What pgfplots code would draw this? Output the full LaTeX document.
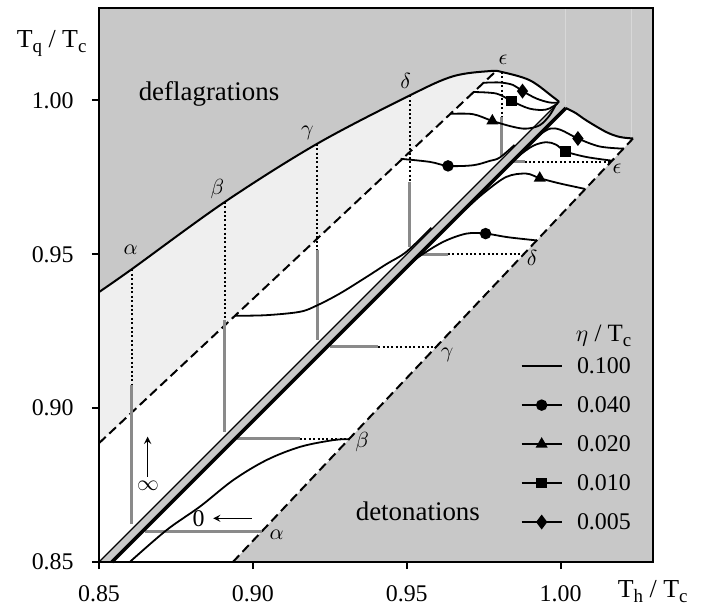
\documentclass[border=0pt]{standalone}
\usepackage{fontspec}
\setmainfont{Liberation Serif}
\usepackage{pgfplots}
\usepackage{pgfplotstable}
\pgfplotsset{compat=1.18}

\definecolor{bggray}{HTML}{C8C8C8}
\definecolor{lightfill}{HTML}{EFEFEF}
\definecolor{limitgray}{HTML}{8A8A8A}
\definecolor{seam}{HTML}{D8D8D8}

% symbol with an upright subscript, e.g. T_q
\newcommand{\lab}[2]{#1\raisebox{-0.45ex}{\fontsize{9.5}{11}\selectfont #2}}

% upper boundary of the deflagration region
\pgfplotstableread{
x y
0.8500 0.9377
0.8606 0.9451
0.8909 0.9670
0.9209 0.9859
0.9510 1.0016
0.9650 1.0078
0.9769 1.0095
0.9809 1.0092
0.9900 1.0065
0.9975 1.0011
0.9995 0.9995
}\deflbound

% upper boundary of the detonation region
\pgfplotstableread{
x y
1.0017 0.9975
1.0050 0.9958
1.0083 0.9935
1.0148 0.9897
1.0192 0.9881
1.0235 0.9876
}\detbound

\pgfplotsset{
  curve/.style={black, line width=0.9bp, smooth, tension=0.55, mark options={solid, fill=black, draw=black}},
  bound/.style={black, line width=1bp, smooth, tension=0.55},
  dashline/.style={black, line width=1bp, dash pattern=on 4.6bp off 2.4bp},
  dotline/.style={black, line width=1bp, dash pattern=on 1bp off 1.2bp},
  limit/.style={limitgray, line width=1.4bp},
}

\begin{document}
\begin{tikzpicture}[font=\fontsize{12}{14.4}\selectfont]
\begin{axis}[
  width=277bp, height=277bp, scale only axis,
  xmin=0.85, xmax=1.03, ymin=0.85, ymax=1.03,
  xtick={0.85,0.9,0.95,1.0}, xticklabels={0.85,0.90,0.95,1.00},
  ytick={0.85,0.9,0.95,1.0}, yticklabels={0.85,0.90,0.95,1.00},
  tick align=outside, xtick pos=bottom, ytick pos=left,
  major tick length=3.5bp,
  every tick/.style={black, line width=1bp},
  axis line style={line width=1bp},
  axis background/.style={fill=bggray},
  axis on top,
  clip=false,
  tick label style={font=\fontsize{12}{14.4}\selectfont, inner sep=0pt},
  xticklabel style={yshift=-8bp},
  yticklabel style={xshift=-9bp},
]

% regions
\addplot[draw=none, fill=white, smooth, tension=0.55] table {\deflbound}
  -- (axis cs:0.85,0.85) -- cycle;
\addplot[draw=none, fill=lightfill] coordinates {(0.85,0.8886) (0.9789,1.0094) (0.9789,1.03) (0.85,1.03)} -- cycle;
\addplot[draw=none, fill=bggray, smooth, tension=0.55] table {\deflbound}
  -- (axis cs:0.9995,1.03) -- (axis cs:0.85,1.03) -- cycle;
\addplot[draw=none, fill=white, smooth, tension=0.55] table {\detbound}
  -- (axis cs:0.8935,0.85) -- (axis cs:0.8542,0.85) -- cycle;

% faint seams in the shaded area
\addplot[seam, line width=0.5bp] coordinates {(1.0016,1.03) (1.0016,0.9985)};
\addplot[seam, line width=0.5bp] coordinates {(1.0231,1.03) (1.0231,0.9880)};

% dashed limits
\addplot[dashline] coordinates {(0.85,0.8886) (0.9789,1.0094)};
\addplot[dashline] coordinates {(0.8935,0.85) (1.0235,0.9876)};

% deflagrations: dotted and grey verticals
\addplot[dotline] coordinates {(0.8606,0.9451) (0.8606,0.9075)};
\addplot[dotline] coordinates {(0.8909,0.9670) (0.8909,0.9286)};
\addplot[dotline] coordinates {(0.9209,0.9859) (0.9209,0.9513)};
\addplot[dotline] coordinates {(0.9510,1.0016) (0.9510,0.9735)};
\addplot[dotline] coordinates {(0.9809,1.0092) (0.9809,0.9946)};
\addplot[limit] coordinates {(0.8606,0.9075) (0.8606,0.8625)};
\addplot[limit] coordinates {(0.8909,0.9286) (0.8909,0.8923)};
\addplot[limit] coordinates {(0.9209,0.9513) (0.9209,0.9222)};
\addplot[limit] coordinates {(0.9510,0.9735) (0.9510,0.9522)};
\addplot[limit] coordinates {(0.9809,0.9946) (0.9809,0.9820)};

% detonations: grey and dotted horizontals
\addplot[limit] coordinates {(0.8649,0.86) (0.9030,0.86)};
\addplot[limit] coordinates {(0.8947,0.89) (0.9153,0.89)};
\addplot[limit] coordinates {(0.9250,0.92) (0.9407,0.92)};
\addplot[limit] coordinates {(0.9537,0.95) (0.9634,0.95)};
\addplot[limit] coordinates {(0.9840,0.98) (0.9883,0.98)};
\addplot[dotline] coordinates {(0.9153,0.89) (0.9313,0.89)};
\addplot[dotline] coordinates {(0.9407,0.92) (0.9597,0.92)};
\addplot[dotline] coordinates {(0.9634,0.95) (0.9881,0.95)};
\addplot[dotline] coordinates {(0.9883,0.98) (1.0163,0.98)};

% band between the two branches
\addplot[black, line width=0.7bp] coordinates {(0.85,0.85) (0.9995,0.9995)};
\addplot[black, line width=1.8bp] coordinates {(0.8542,0.85) (1.0017,0.9975)};

% region boundaries
\addplot[bound] table {\deflbound};
\addplot[bound] table {\detbound};

% deflagration solutions
\addplot[curve] coordinates {(0.8942,0.9300) (0.9044,0.9302) (0.9153,0.9313) (0.9209,0.9334) (0.9282,0.9372) (0.9369,0.9426) (0.9434,0.9468) (0.9499,0.9508) (0.9580,0.9586)};
\addplot[curve, mark=*, mark size=2.4bp, mark indices={3}] coordinates {(0.9480,0.9810) (0.9575,0.9800) (0.9634,0.9787) (0.9715,0.9789) (0.9769,0.9803) (0.9802,0.9814) (0.9850,0.9855)};
\addplot[curve, mark=triangle*, mark size=2.6bp, mark indices={3}] coordinates {(0.9640,0.9956) (0.9715,0.9955) (0.9778,0.9933) (0.9845,0.9914) (0.9888,0.9908) (0.9932,0.9919) (0.9964,0.9951) (0.9985,0.9987)};
\addplot[curve, mark=square*, mark size=2.2bp, mark indices={3}] coordinates {(0.9715,1.0027) (0.9791,1.0022) (0.9840,0.9998) (0.9899,0.9973) (0.9953,0.9970) (0.9990,0.9990)};
\addplot[curve, mark=diamond*, mark size=3bp, mark indices={4}] coordinates {(0.9748,1.0057) (0.9802,1.0058) (0.9845,1.0050) (0.9876,1.0030) (0.9921,1.0006) (0.9964,0.9993) (0.9993,0.9993)};

% detonation solutions
\addplot[curve] coordinates {(0.8600,0.8500) (0.8720,0.8604) (0.8828,0.8680) (0.8936,0.8766) (0.9044,0.8831) (0.9153,0.8874) (0.9261,0.8896) (0.9313,0.8899)};
\addplot[curve, mark=*, mark size=2.4bp, mark indices={5}] coordinates {(0.9500,0.9456) (0.9537,0.9490) (0.9618,0.9540) (0.9694,0.9567) (0.9756,0.9567) (0.9823,0.9556) (0.9883,0.9549) (0.9921,0.9545)};
\addplot[curve, mark=triangle*, mark size=2.6bp, mark indices={5}] coordinates {(0.9690,0.9645) (0.9748,0.9697) (0.9823,0.9751) (0.9888,0.9762) (0.9932,0.9747) (0.9997,0.9730) (1.0080,0.9712)};
\addplot[curve, mark=square*, mark size=2.2bp, mark indices={5}] coordinates {(0.9860,0.9817) (0.9910,0.9852) (0.9953,0.9864) (0.9985,0.9856) (1.0016,0.9834) (1.0083,0.9816) (1.0166,0.9804)};
\addplot[curve, mark=diamond*, mark size=3bp, mark indices={4}] coordinates {(0.9930,0.9887) (0.9965,0.9908) (1.0000,0.9904) (1.0056,0.9876) (1.0127,0.9850) (1.0205,0.9843)};

% legend samples
\addplot[curve] coordinates {(0.98734,0.91364) (0.99383,0.91364) (1.00032,0.91364)};
\addplot[curve, mark=*, mark size=2.4bp, mark indices={2}] coordinates {(0.98734,0.90097) (0.99383,0.90097) (1.00032,0.90097)};
\addplot[curve, mark=triangle*, mark size=2.6bp, mark indices={2}] coordinates {(0.98734,0.88831) (0.99383,0.88831) (1.00032,0.88831)};
\addplot[curve, mark=square*, mark size=2.2bp, mark indices={2}] coordinates {(0.98734,0.87565) (0.99383,0.87565) (1.00032,0.87565)};
\addplot[curve, mark=diamond*, mark size=3bp, mark indices={2}] coordinates {(0.98734,0.86299) (0.99383,0.86299) (1.00032,0.86299)};

\node[anchor=base] at (axis cs:1.01396,0.9218) {\fontsize{12.5}{15}\selectfont $\eta$ / \lab{T}{c}};
\node[anchor=west, inner sep=0pt] at (axis cs:1.00519,0.91364) {0.100};
\node[anchor=west, inner sep=0pt] at (axis cs:1.00519,0.90097) {0.040};
\node[anchor=west, inner sep=0pt] at (axis cs:1.00519,0.88831) {0.020};
\node[anchor=west, inner sep=0pt] at (axis cs:1.00519,0.87565) {0.010};
\node[anchor=west, inner sep=0pt] at (axis cs:1.00519,0.86299) {0.005};

% region names
\node[anchor=base west, inner sep=0pt] at (axis cs:0.8628,1.0000) {\fontsize{13.5}{16}\selectfont deflagrations};
\node[anchor=base, inner sep=0pt] at (axis cs:0.9536,0.8636) {\fontsize{13.5}{16}\selectfont detonations};

% labels of the branches
\begin{scope}[font=\fontsize{11}{13}\selectfont]
\node at (axis cs:0.8603,0.9513) {$\alpha$};
\node at (axis cs:0.8885,0.9713) {$\beta$};
\node at (axis cs:0.9177,0.9894) {$\gamma$};
\node at (axis cs:0.9496,1.0062) {$\delta$};
\node at (axis cs:0.9813,1.0132) {$\epsilon$};
\node at (axis cs:0.9077,0.8588) {$\alpha$};
\node at (axis cs:0.9355,0.8891) {$\beta$};
\node at (axis cs:0.9631,0.9172) {$\gamma$};
\node at (axis cs:0.9907,0.9489) {$\delta$};
\node at (axis cs:1.0183,0.9776) {$\epsilon$};
\node at (axis cs:0.8659,0.8747) {$\infty$};
\end{scope}

% limits of the viscosity
\draw[black, line width=0.6bp, -stealth] (axis cs:0.8658,0.8777) -- (axis cs:0.8658,0.8907);
\draw[black, line width=0.6bp, -stealth] (axis cs:0.8996,0.8642) -- (axis cs:0.8871,0.8642);
\node at (axis cs:0.8824,0.8641) {0};

% axis titles
\node[anchor=base] at (axis cs:0.8346,1.0173) {\fontsize{13}{15}\selectfont \lab{T}{q} / \lab{T}{c}};
\node[anchor=base] at (axis cs:1.0299,0.8386) {\fontsize{13}{15}\selectfont \lab{T}{h} / \lab{T}{c}};
\end{axis}
\pgfresetboundingbox
\path ([shift={(-49.5bp,-21.5bp)}]current axis.south west) rectangle ([shift={(29bp,4bp)}]current axis.north east);
\end{tikzpicture}
\end{document}
